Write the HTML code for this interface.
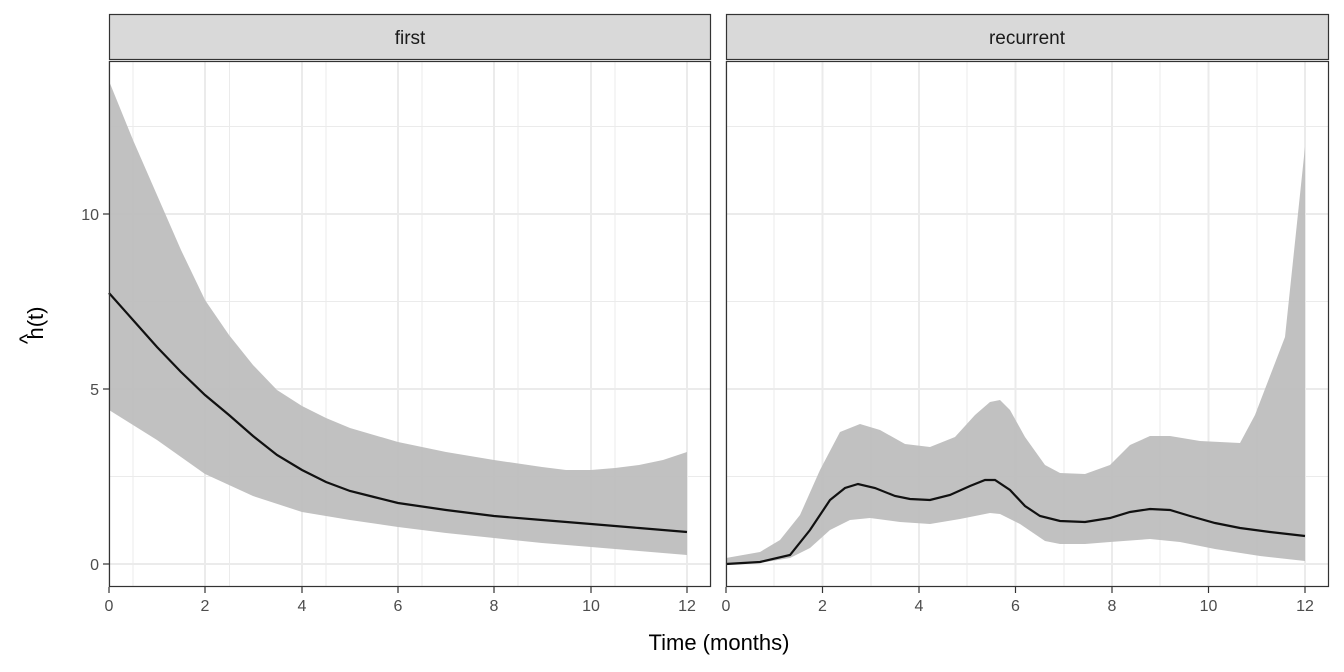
<!DOCTYPE html>
<html><head><style>body{margin:0;background:#fff}svg{display:block}</style></head><body>
<svg width="1344" height="672" xmlns="http://www.w3.org/2000/svg" font-family="Liberation Sans, sans-serif">
<g>
<rect x="109" y="61" width="602" height="526" fill="#fff"/>
<g stroke="#ebebeb" stroke-width="1">
<line x1="109" x2="711" y1="476.5" y2="476.5"/><line x1="109" x2="711" y1="301.5" y2="301.5"/><line x1="109" x2="711" y1="126.5" y2="126.5"/>
<line x1="133" x2="133" y1="61" y2="587"/><line x1="229.5" x2="229.5" y1="61" y2="587"/><line x1="326" x2="326" y1="61" y2="587"/><line x1="422" x2="422" y1="61" y2="587"/><line x1="518" x2="518" y1="61" y2="587"/><line x1="615" x2="615" y1="61" y2="587"/><line x1="711" x2="711" y1="61" y2="587"/>
</g>
<g stroke="#ebebeb" stroke-width="2">
<line x1="109" x2="711" y1="564" y2="564"/><line x1="109" x2="711" y1="389" y2="389"/><line x1="109" x2="711" y1="214" y2="214"/>
<line x1="109" x2="109" y1="61" y2="587"/><line x1="205" x2="205" y1="61" y2="587"/><line x1="302" x2="302" y1="61" y2="587"/><line x1="398" x2="398" y1="61" y2="587"/><line x1="494" x2="494" y1="61" y2="587"/><line x1="591" x2="591" y1="61" y2="587"/><line x1="687" x2="687" y1="61" y2="587"/>
</g>
<path fill="#bebebe" fill-opacity="0.95" d="M109,81 L133,140 L157,195 L181,250 L205,300 L229,335 L253,365 L277,390 L302,406 L326,418 L350,428 L398,442 L446,452 L494,460 L542,467 L566,470 L591,470 L615,468 L639,465 L663,460 L687,452 L687,555 L639,551 L591,547 L542,543 L494,538 L446,533 L398,527 L350,520 L302,512 L253,496 L205,474 L157,440 L109,410 Z"/>
<path fill="none" stroke="#111" stroke-width="2.2" d="M109,293 L133,320 L157,347 L181,372 L205,395 L229,415 L253,436 L277,455 L302,470 L326,482 L350,491 L374,497 L398,503 L446,510 L494,516 L542,520 L591,524 L639,528 L687,532"/>
<rect x="109.5" y="61.5" width="601" height="525" fill="none" stroke="#333" stroke-width="1.2"/>
<rect x="109.5" y="14.5" width="601" height="45" fill="#d9d9d9" stroke="#333" stroke-width="1.2"/>
<text x="410" y="44" font-size="19" text-anchor="middle" fill="#1a1a1a">first</text>
</g>
<g>
<g stroke="#ebebeb" stroke-width="1">
<line x1="726" x2="1329" y1="476.5" y2="476.5"/><line x1="726" x2="1329" y1="301.5" y2="301.5"/><line x1="726" x2="1329" y1="126.5" y2="126.5"/>
<line x1="774" x2="774" y1="61" y2="587"/><line x1="871" x2="871" y1="61" y2="587"/><line x1="967" x2="967" y1="61" y2="587"/><line x1="1064" x2="1064" y1="61" y2="587"/><line x1="1160" x2="1160" y1="61" y2="587"/><line x1="1257" x2="1257" y1="61" y2="587"/>
</g>
<g stroke="#ebebeb" stroke-width="2">
<line x1="726" x2="1329" y1="564" y2="564"/><line x1="726" x2="1329" y1="389" y2="389"/><line x1="726" x2="1329" y1="214" y2="214"/>
<line x1="726" x2="726" y1="61" y2="587"/><line x1="822.5" x2="822.5" y1="61" y2="587"/><line x1="919" x2="919" y1="61" y2="587"/><line x1="1015.5" x2="1015.5" y1="61" y2="587"/><line x1="1112" x2="1112" y1="61" y2="587"/><line x1="1208.5" x2="1208.5" y1="61" y2="587"/><line x1="1305" x2="1305" y1="61" y2="587"/>
</g>
<path fill="#bebebe" fill-opacity="0.95" d="M726,558 L760,552 L780,540 L800,515 L820,470 L840,432 L860,424 L880,430 L905,444 L930,447 L955,437 L975,415 L990,402 L1000,400 L1010,410 L1025,437 L1045,465 L1060,473 L1085,474 L1110,465 L1130,445 L1150,436 L1170,436 L1200,441 L1240,443 L1255,415 L1285,337 L1305,147 L1305,561 L1260,556 L1215,549 L1180,542 L1150,539 L1110,542 L1085,544 L1060,544 L1045,541 L1020,524 L1000,514 L990,513 L960,519 L930,524 L900,522 L870,518 L850,520 L830,530 L810,548 L790,558 L760,563 L726,564 Z"/>
<path fill="none" stroke="#111" stroke-width="2.2" d="M726,564 L760,562 L790,555 L810,530 L830,500 L845,488 L858,484 L875,488 L895,496 L910,499 L930,500 L950,495 L970,486 L985,480 L995,480 L1010,490 L1025,506 L1040,516 L1060,521 L1085,522 L1110,518 L1130,512 L1150,509 L1170,510 L1190,516 L1215,523 L1240,528 L1270,532 L1305,536"/>
<rect x="726.5" y="61.5" width="602" height="525" fill="none" stroke="#333" stroke-width="1.2"/>
<rect x="726.5" y="14.5" width="602" height="45" fill="#d9d9d9" stroke="#333" stroke-width="1.2"/>
<text x="1027" y="44" font-size="19" text-anchor="middle" fill="#1a1a1a">recurrent</text>
</g>
<g stroke="#333" stroke-width="1.2">
<line x1="103" x2="109" y1="564" y2="564"/><line x1="103" x2="109" y1="389" y2="389"/><line x1="103" x2="109" y1="214" y2="214"/>
<line x1="109" x2="109" y1="587" y2="593"/><line x1="205" x2="205" y1="587" y2="593"/><line x1="302" x2="302" y1="587" y2="593"/><line x1="398" x2="398" y1="587" y2="593"/><line x1="494" x2="494" y1="587" y2="593"/><line x1="591" x2="591" y1="587" y2="593"/><line x1="687" x2="687" y1="587" y2="593"/>
<line x1="726" x2="726" y1="587" y2="593"/><line x1="822.5" x2="822.5" y1="587" y2="593"/><line x1="919" x2="919" y1="587" y2="593"/><line x1="1015.5" x2="1015.5" y1="587" y2="593"/><line x1="1112" x2="1112" y1="587" y2="593"/><line x1="1208.5" x2="1208.5" y1="587" y2="593"/><line x1="1305" x2="1305" y1="587" y2="593"/>
</g>
<g font-size="16" fill="#4d4d4d" text-anchor="end">
<text x="99" y="570">0</text><text x="99" y="395">5</text><text x="99" y="220">10</text>
</g>
<g font-size="16" fill="#4d4d4d" text-anchor="middle">
<text x="109" y="611">0</text><text x="205" y="611">2</text><text x="302" y="611">4</text><text x="398" y="611">6</text><text x="494" y="611">8</text><text x="591" y="611">10</text><text x="687" y="611">12</text>
<text x="726" y="611">0</text><text x="822.5" y="611">2</text><text x="919" y="611">4</text><text x="1015.5" y="611">6</text><text x="1112" y="611">8</text><text x="1208.5" y="611">10</text><text x="1305" y="611">12</text>
</g>
<text x="719" y="650" font-size="22" text-anchor="middle" fill="#000">Time (months)</text>
<g transform="translate(43,323) rotate(-90)">
<text x="0" y="0" font-size="22" text-anchor="middle" fill="#000">h(t)</text>
<text x="-16" y="-8" font-size="22" text-anchor="middle" fill="#000">^</text>
</g>
</svg>
</body></html>
